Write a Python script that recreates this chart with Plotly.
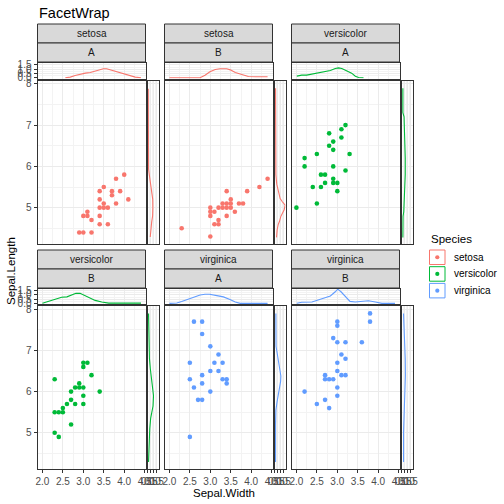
import plotly.graph_objects as go

# ---------------- data ----------------
species = ["setosa", "versicolor", "virginica"]
groups = ["A", "B"]
colors = {"setosa": "#F8766D", "versicolor": "#00BA38", "virginica": "#619CFF"}

sw_setosa_A = [4.0, 3.8, 3.5, 3.4, 3.7, 3.9, 3.7, 3.4, 4.1, 3.5, 3.8, 3.4, 3.5, 3.6, 3.1, 3.0, 3.1, 3.4, 3.2, 3.4, 3.6, 2.9, 3.0, 3.2]
sl_setosa_A = [5.8, 5.7, 5.5, 5.4, 5.4, 5.4, 5.3, 5.2, 5.2, 5.1, 5.1, 5.0, 5.0, 5.0, 4.9, 4.8, 4.8, 4.8, 4.7, 4.6, 4.6, 4.4, 4.4, 4.4]
sw_setosa_B = [4.4, 4.2, 3.4, 3.9, 3.5, 3.3, 3.4, 3.5, 3.7, 3.8, 3.0, 3.2, 3.3, 3.4, 3.5, 3.0, 3.1, 3.6, 3.0, 3.4, 3.2, 3.1, 3.2, 2.3, 3.0]
sl_setosa_B = [5.7, 5.5, 5.4, 5.4, 5.2, 5.1, 5.1, 5.1, 5.1, 5.1, 5.0, 5.0, 5.0, 5.0, 5.0, 4.9, 4.9, 4.9, 4.8, 4.8, 4.7, 4.6, 4.6, 4.5, 4.3]
sw_versicolor_A = [3.2, 3.1, 2.8, 3.1, 2.9, 2.8, 2.9, 2.2, 2.5, 3.3, 2.2, 2.9, 3.2, 2.6, 2.7, 2.9, 2.7, 2.9, 3.0, 2.4, 2.6, 3.0, 2.5, 2.0]
sl_versicolor_A = [7.0, 6.9, 6.8, 6.7, 6.6, 6.5, 6.4, 6.2, 6.3, 6.3, 6.0, 6.0, 5.9, 5.8, 5.8, 5.7, 5.6, 5.6, 5.6, 5.5, 5.5, 5.4, 5.1, 5.0]
sw_versicolor_B = [3.0, 3.1, 3.0, 3.2, 2.3, 2.9, 2.8, 2.9, 3.0, 2.7, 3.4, 3.0, 2.7, 2.6, 2.8, 3.0, 2.5, 2.3, 2.4, 2.5, 2.7, 2.3, 2.4]
sl_versicolor_B = [6.7, 6.7, 6.6, 6.4, 6.3, 6.2, 6.1, 6.1, 6.1, 6.0, 6.0, 5.9, 5.8, 5.7, 5.7, 5.7, 5.6, 5.5, 5.5, 5.5, 5.2, 5.0, 4.9]
sw_virginica_A = [2.6, 2.8, 2.8, 3.0, 3.2, 2.5, 3.1, 3.3, 3.0, 3.2, 2.8, 2.5, 3.3, 3.4, 2.8, 3.4, 2.6, 3.0, 2.7, 2.8, 2.5]
sl_virginica_A = [7.7, 7.7, 7.4, 7.1, 6.9, 6.7, 6.7, 6.7, 6.5, 6.5, 6.4, 6.3, 6.3, 6.3, 6.2, 6.2, 6.1, 6.0, 5.8, 5.8, 4.9]
sw_virginica_B = [3.8, 3.8, 3.0, 3.0, 2.9, 3.0, 3.2, 3.6, 3.1, 3.2, 3.0, 3.0, 2.7, 3.1, 3.2, 2.7, 2.8, 2.9, 3.0, 2.2, 3.0, 2.5, 2.7, 2.8]
sl_virginica_B = [7.9, 7.7, 7.7, 7.6, 7.3, 7.2, 7.2, 7.2, 6.9, 6.8, 6.7, 6.5, 6.4, 6.4, 6.4, 6.3, 6.3, 6.3, 6.1, 6.0, 5.9, 5.7, 5.8, 5.6]

# top marginal densities (Sepal.Width)
topx_setosa_A = [2.56, 2.68, 2.80, 2.92, 3.05, 3.17, 3.29, 3.41, 3.49, 3.57, 3.66, 3.78, 3.90, 4.02, 4.14, 4.27, 4.41]
topd_setosa_A = [0, 0.08, 0.27, 0.42, 0.54, 0.62, 0.77, 0.96, 1.04, 1.04, 0.92, 0.73, 0.54, 0.38, 0.23, 0.08, 0]
topx_setosa_B = [2.00, 2.75, 2.87, 2.99, 3.12, 3.24, 3.40, 3.49, 3.61, 3.77, 3.93, 4.10, 4.40]
topd_setosa_B = [0, 0, 0.30, 0.69, 0.96, 1.04, 1.04, 0.92, 0.62, 0.35, 0.15, 0.12, 0.12]
topx_versicolor_A = [2.01, 2.13, 2.25, 2.38, 2.54, 2.70, 2.83, 2.95, 3.03, 3.11, 3.23, 3.35, 3.44, 3.52, 3.64]
topd_versicolor_A = [0.19, 0.31, 0.31, 0.42, 0.54, 0.69, 0.85, 1.08, 1.15, 1.08, 0.85, 0.54, 0.19, 0.04, 0]
topx_versicolor_B = [2.00, 2.11, 2.23, 2.35, 2.47, 2.60, 2.72, 2.82, 2.92, 3.05, 3.17, 3.29, 3.45, 3.62, 4.41]
topd_versicolor_B = [0, 0.15, 0.31, 0.54, 0.73, 0.77, 0.96, 1.19, 1.19, 0.92, 0.62, 0.35, 0.15, 0.02, 0.02]
topx_virginica_A = [2.00, 2.18, 2.30, 2.43, 2.59, 2.75, 2.87, 2.98, 3.16, 3.32, 3.48, 3.61, 3.73, 4.40]
topd_virginica_A = [0, 0.04, 0.23, 0.46, 0.77, 1.00, 1.08, 1.08, 0.92, 0.77, 0.46, 0.15, 0, 0]
topx_virginica_B = [2.01, 2.13, 2.38, 2.54, 2.70, 2.83, 2.95, 3.01, 3.09, 3.19, 3.31, 3.44, 3.60, 3.76, 3.93, 4.09, 4.41]
topd_virginica_B = [0, 0.12, 0.15, 0.38, 0.62, 0.88, 1.38, 1.69, 1.38, 0.81, 0.23, 0.15, 0.23, 0.31, 0.15, 0, 0]

# right marginal densities (Sepal.Length)
sidey_setosa_A = [7.88, 6.2, 5.93, 5.8, 5.65, 5.5, 5.35, 5.2, 5.0, 4.8, 4.65, 4.5, 4.29]
sided_setosa_A = [0.05, 0.05, 0.10, 0.22, 0.35, 0.52, 0.70, 0.80, 0.82, 0.78, 0.62, 0.48, 0.38]
sidey_setosa_B = [7.89, 6.0, 5.80, 5.57, 5.43, 5.30, 5.22, 5.15, 5.09, 5.06, 4.95, 4.87, 4.79, 4.67, 4.59, 4.47, 4.28]
sided_setosa_B = [0.09, 0.09, 0.15, 0.30, 0.50, 0.70, 0.87, 1.21, 1.55, 1.71, 1.55, 1.21, 0.99, 0.76, 0.54, 0.37, 0.26]
sidey_versicolor_A = [7.89, 7.3, 7.2, 7.0, 6.9, 6.5, 6.2, 5.8, 5.5, 5.3, 5.1, 4.9, 4.79, 4.28]
sided_versicolor_A = [0.15, 0.15, 0.35, 0.40, 0.48, 0.50, 0.55, 0.55, 0.50, 0.48, 0.40, 0.30, 0.18, 0.15]
sidey_versicolor_B = [7.9, 7.0, 6.8, 6.55, 6.3, 6.15, 5.9, 5.65, 5.5, 5.35, 5.1, 4.8, 4.5, 4.29]
sided_versicolor_B = [0.09, 0.12, 0.25, 0.40, 0.60, 0.80, 0.93, 0.85, 0.65, 0.45, 0.30, 0.22, 0.12, 0.09]
sidey_virginica_A = [7.9, 7.1, 6.95, 6.8, 6.65, 6.5, 6.38, 6.25, 6.1, 5.95, 5.75, 5.55, 5.2, 4.29]
sided_virginica_A = [0.15, 0.18, 0.35, 0.55, 0.75, 0.92, 0.99, 0.95, 0.75, 0.55, 0.35, 0.15, 0.09, 0.09]
sidey_virginica_B = [7.9, 7.75, 7.6, 7.2, 6.8, 6.4, 6.1, 5.95, 5.5, 5.3, 5.0, 4.29]
sided_virginica_B = [0.26, 0.30, 0.43, 0.50, 0.55, 0.58, 0.50, 0.43, 0.43, 0.30, 0.26, 0.26]

facets = [("setosa", "A"), ("setosa", "B"), ("versicolor", "A"),
          ("versicolor", "B"), ("virginica", "A"), ("virginica", "B")]
D = globals()

# ---------------- layout geometry (pixels) ----------------
W = H = 504
def fx(p): return p / W
def fy(p): return 1 - p / H

col_main = [(37.5, 145.5), (164.5, 272.5), (291.5, 399.5)]
col_side = [(147.5, 158.5), (274.5, 285.5), (401.5, 412.5)]
row_strip1 = [(24, 43), (250, 269)]
row_strip2 = [(43, 62), (269, 288)]
row_top = [(62.5, 78.5), (288.5, 304)]
row_main = [(80.5, 244), (306, 469)]

XR = [1.88, 4.52]
YR = [4.12, 8.08]
DR = [-0.08, 1.77]

FONT = "Liberation Sans, Arial, sans-serif"
GRID = "#EBEBEB"
MINOR = "#F3F3F3"
LINE = "#333333"
TICKF = dict(size=10, color="#4D4D4D", family=FONT)

fig = go.Figure()
layout = {}
shapes = []
annotations = []

def axname(prefix, k):
    return prefix + "axis" + ("" if k == 1 else str(k))

def ref(prefix, k):
    return prefix + ("" if k == 1 else str(k))

def axis(domain, rng, anchor, tick0, dtick, mtick, labels, fmt):
    return dict(domain=domain, range=rng, anchor=anchor, autorange=False,
                showline=True, mirror=True, linecolor=LINE, linewidth=1,
                showgrid=True, gridcolor=GRID, gridwidth=1, zeroline=False,
                tickmode="linear", tick0=tick0, dtick=dtick, tickformat=fmt,
                minor=dict(tick0=tick0, dtick=mtick, showgrid=True, gridcolor=MINOR, gridwidth=1),
                ticks="outside" if labels else "", ticklen=3, tickcolor=LINE, tickwidth=1,
                showticklabels=labels, tickfont=TICKF, tickangle=0, fixedrange=True)

for i, (sp, gr) in enumerate(facets):
    r, c = divmod(i, 3)
    col = colors[sp]
    km, kt, ks = 3 * i + 1, 3 * i + 2, 3 * i + 3
    xm = [fx(col_main[c][0]), fx(col_main[c][1])]
    xs = [fx(col_side[c][0]), fx(col_side[c][1])]
    ym = [fy(row_main[r][1]), fy(row_main[r][0])]
    yt = [fy(row_top[r][1]), fy(row_top[r][0])]
    bottom = (r == 1)
    left = (c == 0)

    # main panel
    layout[axname("x", km)] = axis(xm, XR, ref("y", km), 2, 0.5, 0.25, bottom, ".1f")
    layout[axname("y", km)] = axis(ym, YR, ref("x", km), 0, 1, 0.5, left, "d")
    # top marginal
    layout[axname("x", kt)] = axis(xm, XR, ref("y", kt), 2, 0.5, 0.25, False, ".1f")
    layout[axname("y", kt)] = axis(yt, DR, ref("x", kt), 0, 0.5, 0.25, left, ".1f")
    # side marginal
    layout[axname("x", ks)] = axis(xs, DR, ref("y", ks), 0, 0.5, 0.25, bottom, ".1f")
    layout[axname("y", ks)] = axis(ym, YR, ref("x", ks), 0, 1, 0.5, False, "d")

    key = f"{sp}_{gr}"
    fig.add_trace(go.Scatter(x=D["sw_" + key], y=D["sl_" + key], mode="markers",
                             marker=dict(color=col, size=4.6, line=dict(width=0)),
                             xaxis=ref("x", km), yaxis=ref("y", km), showlegend=False, hoverinfo="skip"))
    fig.add_trace(go.Scatter(x=D["topx_" + key], y=D["topd_" + key], mode="lines",
                             line=dict(color=col, width=1.1),
                             xaxis=ref("x", kt), yaxis=ref("y", kt), showlegend=False, hoverinfo="skip"))
    fig.add_trace(go.Scatter(x=D["sided_" + key], y=D["sidey_" + key], mode="lines",
                             line=dict(color=col, width=1.1),
                             xaxis=ref("x", ks), yaxis=ref("y", ks), showlegend=False, hoverinfo="skip"))

    # strips
    for (t0, t1), label in ((row_strip1[r], sp), (row_strip2[r], gr)):
        shapes.append(dict(type="rect", xref="paper", yref="paper",
                           x0=xm[0], x1=xm[1], y0=fy(t1), y1=fy(t0),
                           fillcolor="#D9D9D9", line=dict(color=LINE, width=1), layer="above"))
        annotations.append(dict(xref="paper", yref="paper", x=(xm[0] + xm[1]) / 2,
                                y=fy((t0 + t1) / 2), text=label, showarrow=False,
                                font=dict(size=10, color="#1A1A1A", family=FONT),
                                xanchor="center", yanchor="middle"))

# title and axis titles
annotations.append(dict(xref="paper", yref="paper", x=fx(36.5), y=fy(12.5), text="FacetWrap",
                        showarrow=False, xanchor="left", yanchor="middle",
                        font=dict(size=14.5, color="#000000", family=FONT)))
annotations.append(dict(xref="paper", yref="paper", x=fx(224), y=fy(493), text="Sepal.Width",
                        showarrow=False, xanchor="center", yanchor="middle",
                        font=dict(size=11.5, color="#000000", family=FONT)))
annotations.append(dict(xref="paper", yref="paper", x=fx(11), y=fy(271), text="Sepal.Length",
                        showarrow=False, xanchor="center", yanchor="middle", textangle=-90,
                        font=dict(size=11.5, color="#000000", family=FONT)))

# legend
annotations.append(dict(xref="paper", yref="paper", x=fx(429), y=fy(239), text="Species",
                        showarrow=False, xanchor="left", yanchor="middle",
                        font=dict(size=11.5, color="#000000", family=FONT)))
for j, sp in enumerate(species):
    y0, y1 = 250 + j * 16.7, 264.5 + j * 16.7
    cy = (y0 + y1) / 2
    shapes.append(dict(type="rect", xref="paper", yref="paper", x0=fx(429.5), x1=fx(445),
                       y0=fy(y1), y1=fy(y0), fillcolor="#FFFFFF",
                       line=dict(color=colors[sp], width=1)))
    shapes.append(dict(type="circle", xref="paper", yref="paper", x0=fx(435.2), x1=fx(439.4),
                       y0=fy(cy + 2.1), y1=fy(cy - 2.1), fillcolor=colors[sp],
                       line=dict(width=0)))
    annotations.append(dict(xref="paper", yref="paper", x=fx(452), y=fy(cy), text=sp,
                            showarrow=False, xanchor="left", yanchor="middle",
                            font=dict(size=10, color="#000000", family=FONT)))

fig.update_layout(
    template="none",
    width=W, height=H, autosize=False,
    margin=dict(l=0, r=0, t=0, b=0, pad=0),
    paper_bgcolor="#FFFFFF", plot_bgcolor="#FFFFFF",
    showlegend=False,
    font=dict(family=FONT),
    shapes=shapes, annotations=annotations,
    **layout,
)

fig.write_html("out.html", config={"displayModeBar": False},
               post_script="document.body.style.margin='0';document.body.style.padding='0';")
